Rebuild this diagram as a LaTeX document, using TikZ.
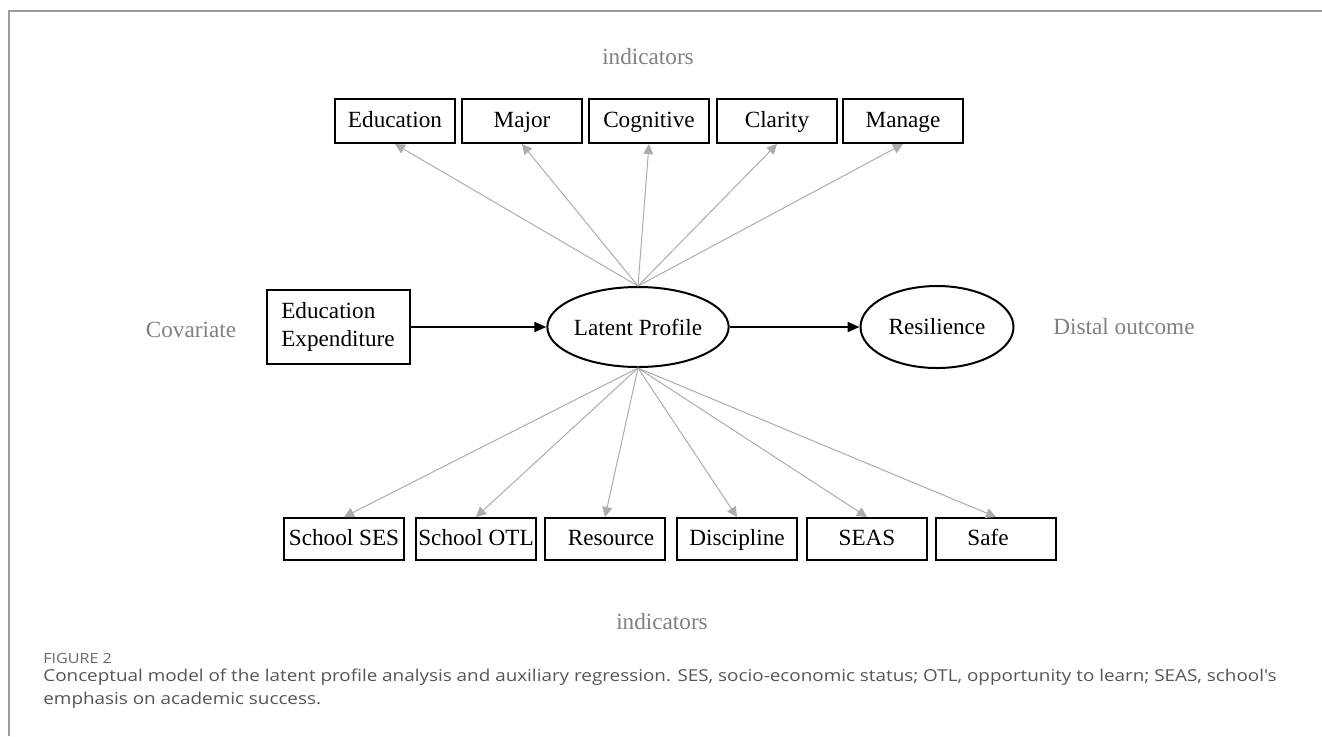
\documentclass[tikz,border=0pt]{standalone}
\usepackage{xcolor}
\usepackage{fontspec}
\setmainfont{Liberation Serif}
\newfontfamily\capfont[FakeStretch=1.15]{Open Sans}
\usetikzlibrary{shapes,positioning,arrows.meta}

\definecolor{labelgray}{RGB}{128,128,128}
\definecolor{loadgray}{RGB}{172,172,172}
\definecolor{framegray}{RGB}{155,155,155}
\definecolor{figgray}{RGB}{105,105,105}
\definecolor{capgray}{RGB}{85,85,85}

\tikzset{
    ind/.style={draw,line width=1pt,minimum width=60pt,minimum height=22pt,inner sep=0pt,text height=8.5pt,text depth=2.5pt},
    latent/.style={draw,ellipse,line width=1pt,minimum width=75pt,minimum height=40pt,inner sep=0pt},
    loading/.style={loadgray,line width=0.5pt,-{Triangle[length=5pt,width=5pt]}},
    regress/.style={line width=1pt,-{Triangle[length=6pt,width=5pt]}},
    tag/.style={text=labelgray}
}

\begin{document}
\begin{tikzpicture}[x=0.5pt,y=-0.5pt,font=\fontsize{11.6}{14}\selectfont]
    \useasboundingbox (0,0) rectangle (1322,736);
    % frame
    \draw[framegray,line width=0.75pt] (9,736) -- (9,11) -- (1322,11);
    % top indicators
    \node[tag] (toplab) at (648,57) {indicators};
    \node[ind] (edu) at (395,121) {Education};
    \node[ind] (major) at (522,121) {Major};
    \node[ind] (cog) at (649,121) {Cognitive};
    \node[ind] (clar) at (777,121) {Clarity};
    \node[ind] (mng) at (903,121) {Manage};
    % middle row
    \node[tag] (cov) at (191,330) {Covariate};
    \node[draw,line width=1pt,minimum width=71.5pt,minimum height=37pt,align=left] (exp) at (338,327) {Education\\Expenditure};
    \node[latent] (lp) at (638,327) {Latent Profile};
    \node[latent,minimum width=76.5pt,minimum height=41pt] (res) at (937,327) {Resilience};
    \node[tag] (dist) at (1124,327) {Distal outcome};
    \draw[regress] (exp) -- (lp);
    \draw[regress] (lp) -- (res);
    % bottom indicators
    \node[ind,minimum height=21pt] (ses) at (344,539) {School SES};
    \node[ind,minimum height=21pt] (otl) at (476,539) {School OTL};
    \node[ind,minimum height=21pt] (rsc) at (605,539) {\hspace*{6pt}Resource};
    \node[ind,minimum height=21pt] (disc) at (737,539) {Discipline};
    \node[ind,minimum height=21pt] (seas) at (867,539) {SEAS};
    \node[ind,minimum height=21pt] (safe) at (996,539) {Safe\hspace*{8pt}};
    \node[tag] (botlab) at (662,622) {indicators};
    % loadings
    \foreach \n in {edu,major,cog,clar,mng}
        \draw[loading] (lp.north) -- (\n.south);
    \foreach \n in {ses,otl,rsc,disc,seas,safe}
        \draw[loading] (lp.south) -- (\n.north);
    % caption
    \node[anchor=base west,inner sep=0pt,text=figgray,font=\capfont\fontsize{7}{8}\selectfont] (fig) at (43,663) {FIGURE 2};
    \node[anchor=base west,inner sep=0pt,text=capgray,font=\capfont\fontsize{8.2}{10}\selectfont] (cap1) at (43,681) {Conceptual model of the latent profile analysis and auxiliary regression. SES, socio-economic status; OTL, opportunity to learn; SEAS, school's};
    \node[anchor=base west,inner sep=0pt,text=capgray,font=\capfont\fontsize{8.2}{10}\selectfont] (cap2) at (43,704) {emphasis on academic success.};
\end{tikzpicture}
\end{document}
